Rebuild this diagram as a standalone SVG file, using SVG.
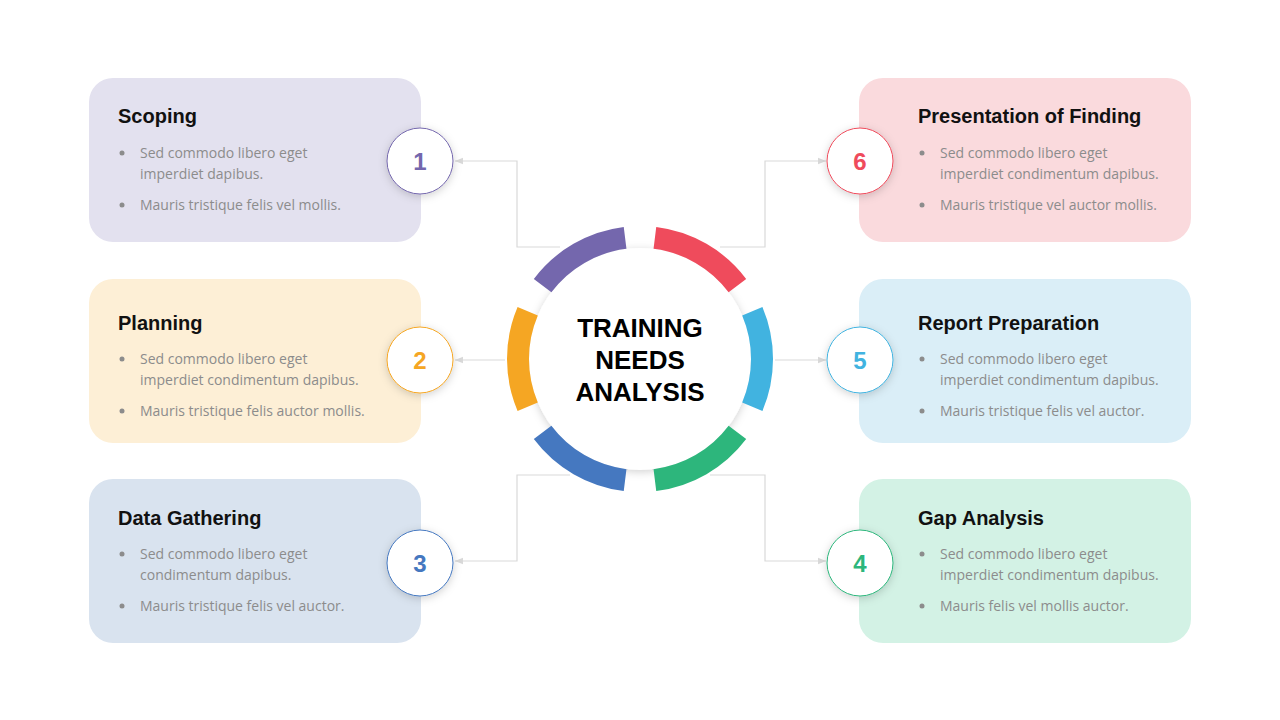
<svg xmlns="http://www.w3.org/2000/svg" width="1280" height="720" viewBox="0 0 1280 720">
<style>
.t{font-family:"Liberation Sans",Arial,sans-serif;font-weight:bold;font-size:20px;fill:#111}
.b{font-family:"Open Sans","Liberation Sans",sans-serif;font-size:14px;fill:#8c8c8c}
.n{font-family:"Liberation Sans",Arial,sans-serif;font-weight:bold;font-size:24px;text-anchor:middle}
.c{fill:none;stroke:#d9d9d9;stroke-width:1.2}
.seg{fill:none;stroke-width:22}
.ct{font-family:"Liberation Sans",Arial,sans-serif;font-weight:bold;font-size:26px;text-anchor:middle;fill:#000}
</style>
<defs>
<filter id="sh" x="-30%" y="-30%" width="160%" height="160%"><feDropShadow dx="0" dy="2" stdDeviation="4" flood-color="#000" flood-opacity="0.18"/></filter>
<marker id="ar" viewBox="0 0 10 10" refX="10" refY="5" markerWidth="7" markerHeight="7" orient="auto-start-reverse"><path d="M0,1 L10,5 L0,9 z" fill="#d9d9d9"/></marker>
</defs>
<rect width="1280" height="720" fill="#fff"/>
<g id="connectors">
<path class="c" d="M560,247 H517 V161 H455" marker-end="url(#ar)"/>
<path class="c" d="M505,360 H455" marker-end="url(#ar)"/>
<path class="c" d="M570,475 H517 V561 H455" marker-end="url(#ar)"/>
<path class="c" d="M720,247 H765 V161 H826" marker-end="url(#ar)"/>
<path class="c" d="M775,360 H826" marker-end="url(#ar)"/>
<path class="c" d="M710,475 H765 V561 H826" marker-end="url(#ar)"/>
</g>
<g id="center">
<circle cx="640" cy="359" r="111" fill="#fff" filter="url(#sh)"/>
<path class="seg" stroke="#ef4b5c" d="M654.9,237.9 A122,122 0 0 1 737.4,285.6"/>
<path class="seg" stroke="#7467ad" d="M542.6,285.6 A122,122 0 0 1 625.1,237.9"/>
<path class="seg" stroke="#f5a623" d="M527.7,406.7 A122,122 0 0 1 527.7,311.3"/>
<path class="seg" stroke="#41b3e0" d="M752.3,311.3 A122,122 0 0 1 752.3,406.7"/>
<path class="seg" stroke="#2db67c" d="M737.4,432.4 A122,122 0 0 1 654.9,480.1"/>
<path class="seg" stroke="#4578c0" d="M625.1,480.1 A122,122 0 0 1 542.6,432.4"/>
<text class="ct" x="640" y="337">TRAINING</text>
<text class="ct" x="640" y="369">NEEDS</text>
<text class="ct" x="640" y="401">ANALYSIS</text>
</g>
<g id="n1">
<rect x="89" y="78" width="332" height="164" rx="24" fill="#e3e1ef"/>
<text class="t" x="118" y="123">Scoping</text>
<circle cx="122" cy="153" r="2.5" fill="#8c8c8c"/><text class="b" x="140" y="158">Sed commodo libero eget</text><text class="b" x="140" y="179">imperdiet dapibus.</text>
<circle cx="122" cy="205" r="2.5" fill="#8c8c8c"/><text class="b" x="140" y="210">Mauris tristique felis vel mollis.</text>
<circle cx="420" cy="161" r="33" fill="#fff" stroke="#7467ad" filter="url(#sh)"/><text class="n" x="420" y="170" fill="#7467ad">1</text>
</g>
<g id="n2">
<rect x="89" y="279" width="332" height="164" rx="24" fill="#fdefd6"/>
<text class="t" x="118" y="330">Planning</text>
<circle cx="122" cy="359" r="2.5" fill="#8c8c8c"/><text class="b" x="140" y="364">Sed commodo libero eget</text><text class="b" x="140" y="385">imperdiet condimentum dapibus.</text>
<circle cx="122" cy="411" r="2.5" fill="#8c8c8c"/><text class="b" x="140" y="416">Mauris tristique felis auctor mollis.</text>
<circle cx="420" cy="360" r="33" fill="#fff" stroke="#f5a623" filter="url(#sh)"/><text class="n" x="420" y="369" fill="#f5a623">2</text>
</g>
<g id="n3">
<rect x="89" y="479" width="332" height="164" rx="24" fill="#d9e3ef"/>
<text class="t" x="118" y="525">Data Gathering</text>
<circle cx="122" cy="554" r="2.5" fill="#8c8c8c"/><text class="b" x="140" y="559">Sed commodo libero eget</text><text class="b" x="140" y="580">condimentum dapibus.</text>
<circle cx="122" cy="606" r="2.5" fill="#8c8c8c"/><text class="b" x="140" y="611">Mauris tristique felis vel auctor.</text>
<circle cx="420" cy="563" r="33" fill="#fff" stroke="#4578c0" filter="url(#sh)"/><text class="n" x="420" y="572" fill="#4578c0">3</text>
</g>
<g id="n6">
<rect x="859" y="78" width="332" height="164" rx="24" fill="#fadadd"/>
<text class="t" x="918" y="123">Presentation of Finding</text>
<circle cx="922" cy="153" r="2.5" fill="#8c8c8c"/><text class="b" x="940" y="158">Sed commodo libero eget</text><text class="b" x="940" y="179">imperdiet condimentum dapibus.</text>
<circle cx="922" cy="205" r="2.5" fill="#8c8c8c"/><text class="b" x="940" y="210">Mauris tristique vel auctor mollis.</text>
<circle cx="860" cy="161" r="33" fill="#fff" stroke="#ef4b5c" filter="url(#sh)"/><text class="n" x="860" y="170" fill="#ef4b5c">6</text>
</g>
<g id="n5">
<rect x="859" y="279" width="332" height="164" rx="24" fill="#daeef7"/>
<text class="t" x="918" y="330">Report Preparation</text>
<circle cx="922" cy="359" r="2.5" fill="#8c8c8c"/><text class="b" x="940" y="364">Sed commodo libero eget</text><text class="b" x="940" y="385">imperdiet condimentum dapibus.</text>
<circle cx="922" cy="411" r="2.5" fill="#8c8c8c"/><text class="b" x="940" y="416">Mauris tristique felis vel auctor.</text>
<circle cx="860" cy="360" r="33" fill="#fff" stroke="#41b3e0" filter="url(#sh)"/><text class="n" x="860" y="369" fill="#41b3e0">5</text>
</g>
<g id="n4">
<rect x="859" y="479" width="332" height="164" rx="24" fill="#d3f2e5"/>
<text class="t" x="918" y="525">Gap Analysis</text>
<circle cx="922" cy="554" r="2.5" fill="#8c8c8c"/><text class="b" x="940" y="559">Sed commodo libero eget</text><text class="b" x="940" y="580">imperdiet condimentum dapibus.</text>
<circle cx="922" cy="606" r="2.5" fill="#8c8c8c"/><text class="b" x="940" y="611">Mauris felis vel mollis auctor.</text>
<circle cx="860" cy="563" r="33" fill="#fff" stroke="#2db67c" filter="url(#sh)"/><text class="n" x="860" y="572" fill="#2db67c">4</text>
</g>
</svg>
